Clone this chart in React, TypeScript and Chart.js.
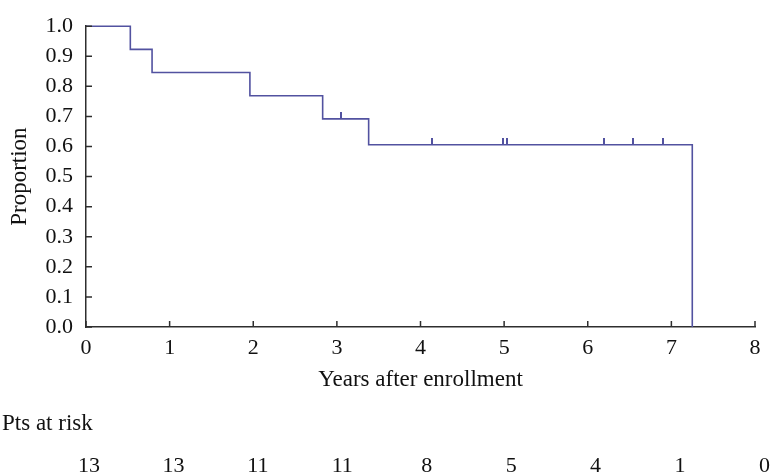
import React, { useEffect, useRef } from "react";
import { Chart, registerables } from "chart.js";

Chart.register(...registerables);

// Kaplan-Meier step points (time in years, survival proportion)
const stepTimes = [0, 0.53, 0.79, 1.96, 2.83, 3.38, 7.25];
const stepSurvival = [1.0, 0.923, 0.846, 0.769, 0.692, 0.606, 0.0];

// Censored observations
const censorTimes = [3.05, 4.14, 4.99, 5.03, 6.19, 6.54, 6.9];
const censorSurvival = [0.692, 0.606, 0.606, 0.606, 0.606, 0.606, 0.606];

// Numbers at risk
const atRiskTimes = [0, 1, 2, 3, 4, 5, 6, 7, 8];
const atRiskCounts = [13, 13, 11, 11, 8, 5, 4, 1, 0];

const xTickValues = [0, 1, 2, 3, 4, 5, 6, 7, 8];

const FONT_FAMILY = "'Liberation Serif', 'Times New Roman', serif";
const LINE_COLOR = "#5252a0";
const AXIS_COLOR = "#2e2e2e";
const TEXT_COLOR = "#111111";

export default function App() {
  const canvasRef = useRef<HTMLCanvasElement | null>(null);

  useEffect(() => {
    const canvas = canvasRef.current;
    if (!canvas) return;

    // censor mark: short vertical tick pointing upward from the point
    const mark = document.createElement("canvas");
    mark.width = 2;
    mark.height = 14;
    const mctx = mark.getContext("2d");
    if (mctx) {
      mctx.fillStyle = LINE_COLOR;
      mctx.fillRect(0, 0, 2, 7);
    }

    const inwardTicksAndTable = {
      id: "inwardTicksAndTable",
      afterDatasetsDraw(chart: any) {
        const { ctx, chartArea } = chart;
        const xs = chart.scales.x;
        const ys = chart.scales.y;
        ctx.save();
        ctx.strokeStyle = AXIS_COLOR;
        ctx.lineWidth = 1.5;
        ctx.beginPath();
        xs.ticks.forEach((t: any) => {
          const px = xs.getPixelForValue(t.value);
          ctx.moveTo(px, chartArea.bottom);
          ctx.lineTo(px, chartArea.bottom - 6);
        });
        ys.ticks.forEach((t: any) => {
          const py = ys.getPixelForValue(t.value);
          ctx.moveTo(chartArea.left, py);
          ctx.lineTo(chartArea.left + 6, py);
        });
        ctx.stroke();

        // Pts at risk table
        ctx.fillStyle = TEXT_COLOR;
        ctx.textBaseline = "middle";
        ctx.font = `23px ${FONT_FAMILY}`;
        ctx.textAlign = "left";
        ctx.fillText("Pts at risk", 2, 424);
        ctx.font = `22px ${FONT_FAMILY}`;
        ctx.textAlign = "center";
        atRiskTimes.forEach((t, i) => {
          const px = xs.getPixelForValue(t) + 3 + i * 0.8;
          ctx.fillText(String(atRiskCounts[i]), px, 466);
        });
        ctx.restore();
      },
    };

    const chart = new Chart(canvas, {
      type: "line",
      data: {
        datasets: [
          {
            type: "line",
            data: stepTimes.map((t, i) => ({ x: t, y: stepSurvival[i] })),
            stepped: "before",
            borderColor: LINE_COLOR,
            borderWidth: 1.6,
            pointRadius: 0,
            fill: false,
            clip: false,
          } as any,
          {
            type: "scatter",
            data: censorTimes.map((t, i) => ({ x: t, y: censorSurvival[i] })),
            pointStyle: mark as any,
            pointRadius: 7,
            showLine: false,
            clip: false,
          } as any,
        ],
      },
      plugins: [inwardTicksAndTable],
      options: {
        animation: false,
        responsive: false,
        events: [],
        layout: { padding: { left: 0, top: 16, right: 15, bottom: 81 } },
        plugins: {
          legend: { display: false },
          tooltip: { enabled: false },
        },
        scales: {
          x: {
            type: "linear",
            min: 0,
            max: 8,
            afterBuildTicks: (scale: any) => {
              scale.ticks = xTickValues.map((v) => ({ value: v }));
            },
            afterFit: (scale: any) => {
              scale.height = 67;
            },
            grid: { display: false, drawTicks: false },
            border: { display: true, color: AXIS_COLOR, width: 1.5 },
            ticks: {
              padding: 8,
              color: TEXT_COLOR,
              font: { family: FONT_FAMILY, size: 22 },
              maxRotation: 0,
              autoSkip: false,
            },
            title: {
              display: true,
              text: "Years after enrollment",
              color: TEXT_COLOR,
              font: { family: FONT_FAMILY, size: 23 },
              padding: { top: 0, bottom: 0 },
            },
          },
          y: {
            type: "linear",
            min: 0,
            max: 1,
            afterFit: (scale: any) => {
              scale.width = 86;
            },
            grid: { display: false, drawTicks: false },
            border: { display: true, color: AXIS_COLOR, width: 1.5 },
            ticks: {
              stepSize: 0.1,
              padding: 13,
              color: TEXT_COLOR,
              font: { family: FONT_FAMILY, size: 22 },
              callback: (v: any) => Number(v).toFixed(1),
            },
            title: {
              display: true,
              text: "Proportion",
              color: TEXT_COLOR,
              font: { family: FONT_FAMILY, size: 23 },
              padding: { top: 6, bottom: 0 },
            },
          },
        },
      } as any,
    });

    return () => {
      chart.destroy();
    };
  }, []);

  return (
    <div style={{ position: "fixed", left: 0, top: 0, width: 770, height: 475, background: "#fff" }}>
      <canvas ref={canvasRef} width={770} height={475} style={{ display: "block" }} />
    </div>
  );
}
